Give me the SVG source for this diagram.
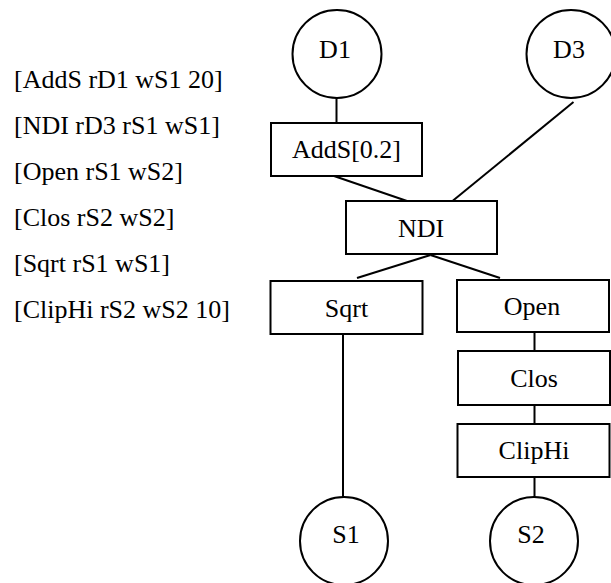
<svg xmlns="http://www.w3.org/2000/svg" width="611" height="583" viewBox="0 0 611 583" font-family="'Liberation Serif', 'Times New Roman', Times, serif" font-size="26">
<style>
  text { font-family: "Liberation Serif", "Times New Roman", Times, serif; font-size: 26px; fill: #000; }
  .lbl { text-anchor: middle; }
  .box { fill: #fff; stroke: #000; stroke-width: 2; }
  .circ { fill: #fff; stroke: #000; stroke-width: 2; }
  .edge { stroke: #000; stroke-width: 2; fill: none; }
</style>
<rect width="611" height="583" fill="#fff"/>
<g id="legend">
  <text x="14" y="88">[AddS rD1 wS1 20]</text>
  <text x="14" y="134">[NDI rD3 rS1 wS1]</text>
  <text x="14" y="180">[Open rS1 wS2]</text>
  <text x="14" y="226">[Clos rS2 wS2]</text>
  <text x="14" y="272">[Sqrt rS1 wS1]</text>
  <text x="14" y="318">[ClipHi rS2 wS2 10]</text>
</g>
<g id="connectors">
  <line class="edge" x1="336.5" y1="98" x2="336.5" y2="123"/>
  <line class="edge" x1="334" y1="176" x2="407" y2="201"/>
  <line class="edge" x1="573.5" y1="102" x2="452.5" y2="201"/>
  <line class="edge" x1="430.5" y1="255" x2="357" y2="278"/>
  <line class="edge" x1="430.5" y1="255" x2="500" y2="278"/>
  <line class="edge" x1="343" y1="334" x2="343" y2="497"/>
  <line class="edge" x1="534.5" y1="332" x2="534.5" y2="351"/>
  <line class="edge" x1="534.5" y1="405" x2="534.5" y2="424"/>
  <line class="edge" x1="534.5" y1="477" x2="534.5" y2="497"/>
</g>
<g id="D1">
  <ellipse class="circ" cx="337" cy="54" rx="44.5" ry="44"/>
  <text class="lbl" x="335" y="58">D1</text>
</g>
<g id="D3">
  <ellipse class="circ" cx="571" cy="54" rx="44.5" ry="44"/>
  <text class="lbl" x="569" y="58">D3</text>
</g>
<g id="AddS">
  <rect class="box" x="271" y="123" width="151" height="53"/>
  <text class="lbl" x="346.5" y="158">AddS[0.2]</text>
</g>
<g id="NDI">
  <rect class="box" x="346" y="201" width="151" height="53"/>
  <text class="lbl" x="421" y="237">NDI</text>
</g>
<g id="Sqrt">
  <rect class="box" x="270.5" y="281" width="152" height="53"/>
  <text class="lbl" x="346.5" y="317">Sqrt</text>
</g>
<g id="Open">
  <rect class="box" x="457" y="280" width="152" height="52"/>
  <text class="lbl" x="532" y="315">Open</text>
</g>
<g id="Clos">
  <rect class="box" x="458" y="351" width="152" height="54"/>
  <text class="lbl" x="534" y="387">Clos</text>
</g>
<g id="ClipHi">
  <rect class="box" x="457.5" y="424" width="152" height="53"/>
  <text class="lbl" x="534" y="459">ClipHi</text>
</g>
<g id="S1">
  <ellipse class="circ" cx="344" cy="541" rx="44" ry="44"/>
  <text class="lbl" x="346" y="543">S1</text>
</g>
<g id="S2">
  <ellipse class="circ" cx="534" cy="541" rx="44" ry="44"/>
  <text class="lbl" x="531" y="543">S2</text>
</g>
</svg>
